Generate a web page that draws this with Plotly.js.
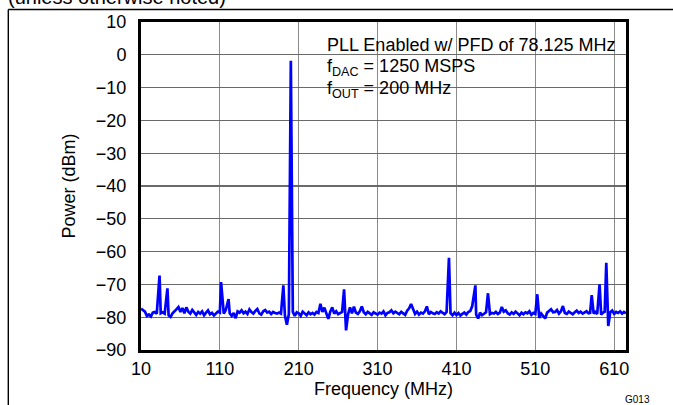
<!DOCTYPE html>
<html>
<head>
<meta charset="utf-8">
<script src="https://cdn.plot.ly/plotly-3.0.1.min.js"></script>
<style>
html,body{margin:0;padding:0;background:#fff;}
#chart{width:673px;height:405px;}
</style>
</head>
<body>
<div id="chart"></div>
<script>
// Spectrum samples (MHz, dBm)
const freqMHz = [
  10,12.5,15,17.5,20,22.5,25,27.5,30,33.5,
  35,37.5,40,43.5,45,47.5,50,52.5,55,57.5,
  60,62.5,65,67.5,70,72.5,75,77.5,80,82.5,
  85,87.5,90,92.5,95,97.5,100,102.5,105,107.5,
  110,111.5,115,117.5,121,122.5,125,127.5,130,132.5,
  135,137.5,140,142.5,145,147.5,150,152.5,155,157.5,
  160,162.5,165,167.5,170,172.5,175,177.5,180,182.5,
  185,187.5,190.5,192.5,195,197.5,200,202.5,205,207.5,
  210,212.5,215,217.5,220,222.5,225,227.5,230,232.5,
  235,237.5,240,242.5,245,247.5,250,252.5,255,257.5,
  260,262.5,265,267.5,270,272.5,275,277.5,280,282.5,
  285,287.5,290,292.5,295,297.5,300,302.5,305,307.5,
  310,312.5,315,317.5,320,322.5,325,327.5,330,332.5,
  335,337.5,340,342.5,345,347.5,350,352.5,355,357.5,
  360,362.5,365,367.5,370,372.5,375,377.5,380,382.5,
  385,387.5,390,392.5,395,397.5,400.5,402.5,405,407.5,
  410,412.5,415,417.5,420,422.5,425,427.5,430,434,
  435,437.5,440,442.5,445,447.5,450,452.5,455,457.5,
  460,462.5,465,467.5,470,472.5,475,477.5,480,482.5,
  485,487.5,490,492.5,495,497.5,500,502.5,505,507.5,
  510,512.5,515,517.5,520,522.5,525,527.5,530,532.5,
  535,537.5,540,542.5,545,547.5,550,552.5,555,557.5,
  560,562.5,565,567.5,570,572.5,575,577.5,579.5,581.5,
  584,586,588.5,591.5,593.5,596,598,600,602.5,605,
  607.5,610,612.5,615,617.5,620,622.5,625
];
const powerDBm = [
  -77.4,-77.8,-78.3,-79.6,-79.2,-79.8,-78.6,-78.4,-78.9,-67.3,
  -78.8,-78.5,-78.9,-71.2,-79.4,-79.9,-78.8,-78.2,-77.6,-76.9,
  -78.4,-77.2,-78.8,-77.0,-78.3,-78.9,-77.8,-78.6,-79.3,-78.4,
  -78.9,-78.2,-79.4,-78.6,-77.9,-79.1,-78.7,-79.5,-78.8,-78.3,
  -78.6,-69.3,-78.9,-77.8,-74.5,-78.8,-79.6,-78.7,-80.3,-78.2,
  -78.6,-77.9,-78.8,-78.3,-79.0,-77.6,-78.4,-78.9,-78.1,-77.5,
  -78.8,-79.2,-78.2,-77.8,-78.6,-78.3,-79.0,-78.4,-78.7,-78.9,
  -78.6,-78.9,-70.3,-79.5,-82.3,-79.0,-1.8,-78.4,-79.6,-78.5,
  -78.8,-79.6,-78.3,-78.9,-79.4,-78.5,-79.1,-78.7,-79.2,-78.4,
  -78.7,-75.9,-78.4,-77.1,-78.6,-80.5,-78.3,-77.0,-78.9,-78.2,
  -79.1,-78.6,-78.4,-71.5,-84.0,-79.2,-77.0,-78.8,-76.8,-78.6,
  -79.0,-78.2,-76.7,-78.5,-79.1,-78.4,-78.9,-79.3,-78.5,-78.8,
  -79.2,-78.6,-78.9,-78.2,-79.4,-78.7,-78.5,-77.9,-78.8,-78.3,
  -78.6,-79.1,-78.4,-78.8,-79.3,-78.0,-77.3,-76.0,-77.8,-79.0,
  -78.3,-79.2,-78.6,-78.9,-78.2,-76.7,-79.1,-78.4,-78.8,-79.0,
  -78.5,-78.9,-78.2,-78.7,-79.1,-78.4,-61.9,-78.8,-79.4,-78.6,
  -79.3,-78.7,-79.5,-79.0,-78.6,-79.2,-78.4,-78.1,-76.6,-70.3,
  -79.2,-80.4,-78.6,-79.4,-78.9,-78.5,-72.7,-79.1,-78.7,-78.9,
  -78.4,-79.0,-78.6,-76.9,-78.3,-77.9,-78.8,-79.2,-78.5,-79.0,
  -78.3,-78.9,-79.4,-78.6,-79.1,-78.5,-78.8,-78.2,-79.3,-78.7,
  -79.0,-73.0,-80.2,-78.9,-79.8,-80.4,-78.6,-78.2,-77.6,-78.5,
  -78.4,-77.8,-78.9,-78.2,-76.6,-78.7,-79.0,-78.3,-78.6,-79.1,
  -78.5,-78.0,-78.7,-78.3,-78.9,-78.6,-78.2,-78.8,-78.7,-73.3,
  -78.9,-78.4,-79.0,-70.0,-79.2,-78.6,-78.3,-63.4,-82.7,-78.5,
  -78.0,-79.0,-78.4,-78.7,-78.2,-78.9,-78.4,-78.8
];
const xTicks = [10,110,210,310,410,510,610];
const yTicks = [10,0,-10,-20,-30,-40,-50,-60,-70,-80,-90];
const noteLines = [
  'PLL Enabled w/ PFD of 78.125 MHz',
  'f<sub>DAC</sub> = 1250 MSPS',
  'f<sub>OUT</sub> = 200 MHz'
];

const FONT = 'Liberation Sans, Arial, sans-serif';
const L = 141, R = 47, T = 22, B = 55, W = 673, H = 405;
const pw = W - L - R, ph = H - T - B;
const px = x => (x - L) / pw;   // pixel -> paper x
const py = y => (H - B - y) / ph; // pixel -> paper y

const trace = {
  x: freqMHz, y: powerDBm, type: 'scatter', mode: 'lines',
  line: {color: '#0000ff', width: 2.7}, hoverinfo: 'skip'
};

const noteY = [45, 67.5, 90];
const annotations = noteLines.map((t, i) => ({
  xref: 'paper', yref: 'paper', x: px(325), y: py(noteY[i]),
  xanchor: 'left', yanchor: 'middle', text: t, showarrow: false,
  font: {family: FONT, size: 18, color: '#000'}
}));
annotations.push({
  xref: 'paper', yref: 'paper', x: px(6), y: py(-3), xanchor: 'left', yanchor: 'middle',
  text: '(unless otherwise noted)', showarrow: false,
  font: {family: FONT, size: 20, color: '#000'}
});
annotations.push({
  xref: 'paper', yref: 'paper', x: px(637), y: py(399.5), xanchor: 'center', yanchor: 'middle',
  text: 'G013', showarrow: false, font: {family: FONT, size: 10, color: '#000'}
});

const layout = {
  width: W, height: H,
  margin: {l: L, r: R, t: T, b: B, pad: 0},
  paper_bgcolor: '#fff', plot_bgcolor: '#fff',
  showlegend: false,
  font: {family: FONT, size: 18, color: '#000'},
  xaxis: {
    range: [10, 625], tickvals: xTicks, ticktext: xTicks.map(String),
    showgrid: true, gridcolor: '#8a8a8a', gridwidth: 1.2,
    showline: true, linecolor: '#000', linewidth: 3, mirror: true,
    ticks: '', zeroline: false, ticklabelstandoff: 0,
    tickfont: {family: FONT, size: 18},
    title: {text: 'Frequency (MHz)', font: {family: FONT, size: 18}, standoff: 0}
  },
  yaxis: {
    range: [-90, 10], tickvals: yTicks, ticktext: yTicks.map(v => v < 0 ? '\u2212' + Math.abs(v) : String(v)),
    showgrid: true, gridcolor: '#6a6a6a', gridwidth: 1.2,
    showline: true, linecolor: '#000', linewidth: 3, mirror: true,
    ticks: '', zeroline: false, ticklabelstandoff: 8,
    tickfont: {family: FONT, size: 18},
    title: {text: 'Power (dBm)', font: {family: FONT, size: 18}, standoff: 16}
  },
  shapes: [
    {type: 'rect', xref: 'paper', yref: 'paper', x0: px(307), x1: 1, y0: py(111.5), y1: 1,
     fillcolor: '#fff', line: {width: 0}, layer: 'between'},
    {type: 'line', xref: 'paper', yref: 'paper', x0: px(8.3), x1: px(8.3), y0: py(9.5), y1: py(420),
     line: {color: '#000', width: 1.4}},
    {type: 'line', xref: 'paper', yref: 'paper', x0: px(8.3), x1: px(690), y0: py(9.5), y1: py(9.5),
     line: {color: '#000', width: 1.4}}
  ],
  annotations: annotations
};

Plotly.newPlot('chart', [trace], layout, {staticPlot: true, displayModeBar: false});
</script>
</body>
</html>
